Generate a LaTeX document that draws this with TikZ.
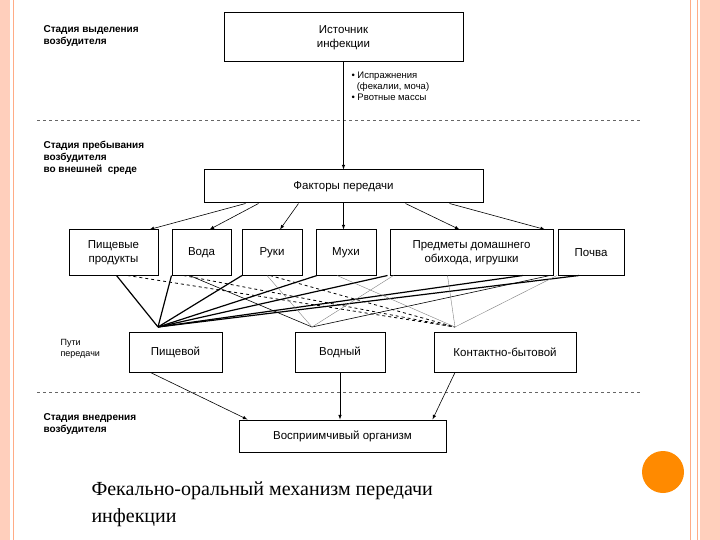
\documentclass[tikz,border=0pt]{standalone}
\usepackage{fontspec}
\setmainfont{Liberation Sans}
\newfontfamily\capfont{Liberation Serif}
\begin{document}
\begin{tikzpicture}[x=1pt,y=-1pt,
  box/.style={draw,line width=1pt,inner sep=0pt,align=center,font=\fontsize{11.5}{13.5}\selectfont},
  stage/.style={anchor=north west,align=left,font=\bfseries\fontsize{10}{12}\selectfont},
  arr/.style={-latex,semithick},
  sepline/.style={dashed,thin,gray!80!black},
  ln/.style={line width=1.2pt}]
\useasboundingbox (0,0) rectangle (720,540);
\fill[orange!25!pink!60] (0,0) rectangle (10,540);
\draw[orange!30!pink,line width=1pt] (13,0) -- (13,540);
\fill[orange!25!pink!60] (700,0) rectangle (720,540);
\draw[orange!30!pink,line width=1pt] (690,0) -- (690,540);
\draw[orange!30!pink,line width=1pt] (697,0) -- (697,540);
\fill[orange!80!yellow!90!red] (663,472) circle (21);
% boxes
\node[box,minimum width=239,minimum height=49] (src) at (343.5,37.5) {Источник\\инфекции};
\node[box,minimum width=279,minimum height=33] (fac) at (343.5,186.5) {Факторы передачи};
\node[box,minimum width=89,minimum height=45] (f1) at (113.5,252.5) {Пищевые\\продукты};
\node[box,minimum width=59,minimum height=45] (f2) at (201.5,252.5) {Вода};
\node[box,minimum width=60,minimum height=45] (f3) at (272,252.5) {Руки};
\node[box,minimum width=60,minimum height=45] (f4) at (346,252.5) {Мухи};
\node[box,minimum width=163,minimum height=45] (f5) at (471.5,252.5) {Предметы домашнего\\обихода, игрушки};
\node[box,minimum width=66,minimum height=45] (f6) at (591,252.5) {Почва};
\node[box,minimum width=93,minimum height=40] (p1) at (175.5,352) {Пищевой};
\node[box,minimum width=90,minimum height=40] (p2) at (340,352) {Водный};
\node[box,minimum width=142,minimum height=40] (p3) at (505,352) {Контактно-бытовой};
\node[box,minimum width=207,minimum height=32] (org) at (342.5,436) {Восприимчивый организм};
% stage labels
\node[stage] (s1) at (40,22) {Стадия выделения\\возбудителя};
\node[stage] (s2) at (40,138) {Стадия пребывания\\возбудителя\\во внешней\ \ среде};
\node[anchor=north west,align=left,font=\fontsize{9}{11}\selectfont] (s3) at (57,336) {Пути\\передачи};
\node[stage] (s4) at (40,410) {Стадия внедрения\\возбудителя};
\node[anchor=north west,align=left,font=\fontsize{9.5}{11}\selectfont] (lab) at (348,68) {• Испражнения\\\ \ (фекалии, моча)\\• Рвотные массы};
% separators
\coordinate (d1a) at (37,120); \coordinate (d1b) at (640,120);
\coordinate (d2a) at (37,392); \coordinate (d2b) at (640,392);
\draw[sepline] (d1a) -- (d1b);
\draw[sepline] (d2a) -- (d2b);
% arrows
\draw[arr] (src.south) -- (fac.north);
\draw[arr] ([xshift=-98]fac.south) -- ([xshift=36]f1.north);
\draw[arr] ([xshift=-85]fac.south) -- ([xshift=8]f2.north);
\draw[arr] ([xshift=-45]fac.south) -- ([xshift=8]f3.north);
\draw[arr] (fac.south) -- (fac.south |- f4.north);
\draw[arr] ([xshift=62]fac.south) -- ([xshift=-12]f5.north);
\draw[arr] ([xshift=106]fac.south) -- ([xshift=-46]f6.north);
\draw[arr] ([xshift=-25]p1.south) -- ([xshift=-95]org.north);
\draw[arr] (p2.south) -- (p2.south |- org.north);
\draw[arr] ([xshift=-50]p3.south) -- ([xshift=90]org.north);
% convergence points
\coordinate (c1) at (158,327);
\coordinate (c2) at (312,327);
\coordinate (c3) at (455,327);
\draw[ln] ([xshift=3]f1.south) -- (c1);
\draw[ln] ([xshift=-30]f2.south) -- (c1);
\draw[ln] ([xshift=-30]f3.south) -- (c1);
\draw[ln] ([xshift=-29]f4.south) -- (c1);
\draw[ln] ([xshift=-84]f5.south) -- (c1);
\draw[ln] ([xshift=-68]f6.south) -- (c1);
\draw[ln] ([xshift=-12]f6.south) -- (c1);
\draw[semithick] ([xshift=-12]f2.south) -- (c2);
\draw[semithick] ([xshift=-41]f6.south) -- (c2);
\draw[dashed,thick] ([xshift=14]f1.south) -- (c3);
\draw[dashed,thick] ([xshift=-18]f2.south) -- (c3);
\draw[dashed,thick] ([xshift=-2]f3.south) -- (c3);
\draw[thin,gray] ([xshift=-9]f4.south) -- (c3);
\draw[thin,gray] ([xshift=-24]f5.south) -- (c3);
\draw[thin,gray] ([xshift=-5]f3.south) -- (c2);
\draw[thin,gray] ([xshift=-78]f5.south) -- (c2);
\draw[thin,gray] ([xshift=-34]f6.south) -- (c3);
% caption
\node[anchor=north west,align=left,font=\capfont\fontsize{20}{27}\selectfont] (cap) at (88,478) {Фекально-оральный механизм передачи\\инфекции};
\end{tikzpicture}
\end{document}
